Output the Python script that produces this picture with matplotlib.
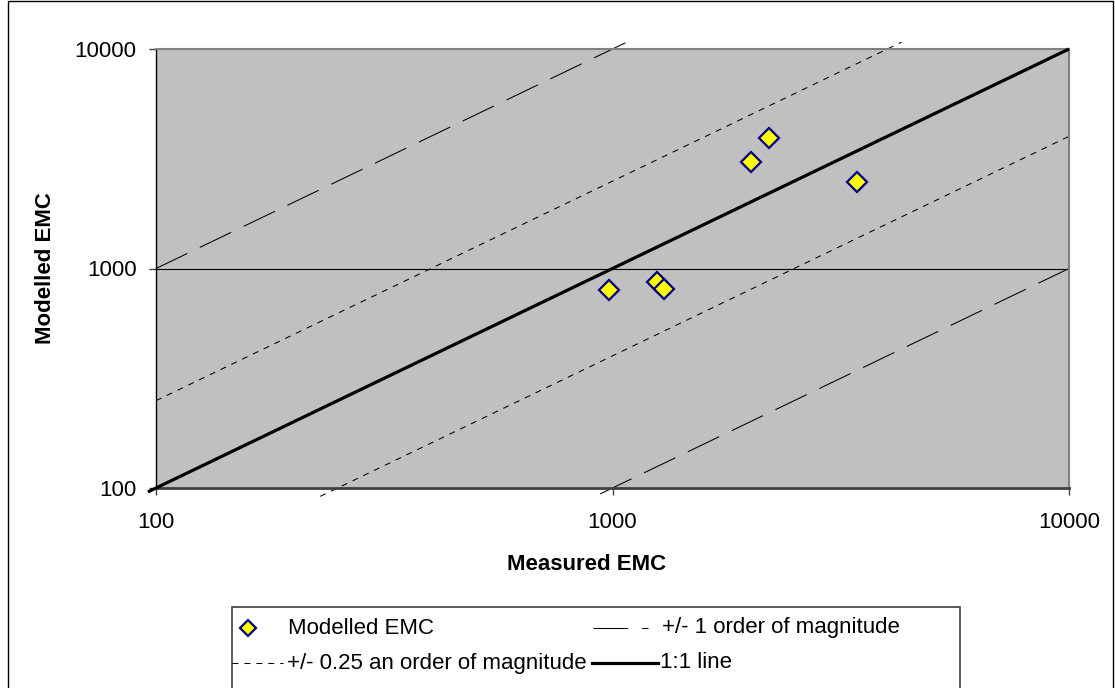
import matplotlib
matplotlib.use("Agg")
import matplotlib.pyplot as plt
from matplotlib.lines import Line2D
from matplotlib.patches import Rectangle
import numpy as np

plt.rcParams['font.family'] = ['Liberation Sans', 'DejaVu Sans']
plt.rcParams['lines.scale_dashes'] = False

# ---- data ----
measured_emc = [981, 1252, 1296, 2011, 2206, 3433]
modelled_emc = [796, 865, 809, 3056, 3920, 2472]

one_to_one_x = [96, 10000]
upper_1_x = [100, 1086]      # y = 10 * x
lower_1_x = [940, 10000]     # y = x / 10
upper_q_x = [100, 4300]      # y = 2.5 * x
lower_q_x = [229, 10000]     # y = x / 2.5
factor_1 = 10.0
factor_q = 2.5

tick_vals = [100, 1000, 10000]
tick_labels = ["100", "1000", "10000"]

W, H = 1115, 688
fig = plt.figure(figsize=(W / 100, H / 100), dpi=100)
fx = lambda x: x / W
fy = lambda y: 1 - y / H

ax = fig.add_axes([fx(156), fy(488), (1069 - 156) / W, (488 - 49) / H])
ax.set_facecolor('#C0C0C0')
ax.set_xscale('log')
ax.set_yscale('log')
ax.set_xlim(100, 10000)
ax.set_ylim(100, 10000)

ax.axhline(1000, color='black', lw=0.8, zorder=1)

long_dash = (0, (25, 10))
short_dash = (0, (4.3, 4.3))

x = np.array(upper_1_x, float)
ax.plot(x, x * factor_1, color='black', lw=0.75, linestyle=long_dash, clip_on=False, zorder=2)
x = np.array(lower_1_x, float)
ax.plot(x, x / factor_1, color='black', lw=0.75, linestyle=long_dash, clip_on=False, zorder=2)
x = np.array(upper_q_x, float)
ax.plot(x, x * factor_q, color='black', lw=0.75, linestyle=short_dash, clip_on=False, zorder=2)
x = np.array(lower_q_x, float)
ax.plot(x, x / factor_q, color='black', lw=0.75, linestyle=short_dash, clip_on=False, zorder=2)
x = np.array(one_to_one_x, float)
ax.plot(x, x, color='black', lw=2.3, solid_capstyle='butt', clip_on=False, zorder=3)

ax.plot(measured_emc, modelled_emc, linestyle='none', marker='D', markersize=10,
        markerfacecolor='#FFFF00', markeredgecolor='#000080', markeredgewidth=1.6, zorder=4)

ax.set_xticks(tick_vals)
ax.set_xticklabels(tick_labels)
ax.set_yticks(tick_vals)
ax.set_yticklabels(tick_labels)
ax.minorticks_off()
ax.tick_params(axis='both', which='major', labelsize=16, length=5, width=1,
               color='#404040', direction='out')
ax.tick_params(axis='x', pad=12)
ax.tick_params(axis='y', pad=9)

for s in ['top', 'right']:
    ax.spines[s].set_color('#808080')
    ax.spines[s].set_linewidth(1.5)
ax.spines['left'].set_color('black')
ax.spines['left'].set_linewidth(1)
ax.spines['bottom'].set_color('#404040')
ax.spines['bottom'].set_linewidth(2)

fig.text(fx(587), fy(565), "Measured EMC", ha='center', va='center',
         fontsize=16, fontweight='bold')
fig.text(fx(46), fy(268), "Modelled EMC", ha='center', va='center',
         fontsize=16, fontweight='bold', rotation=90)

# outer chart border
fig.add_artist(Rectangle((fx(8), fy(700)), (1113 - 8) / W, (700 - 1) / H,
                         transform=fig.transFigure, fill=False,
                         edgecolor='black', lw=1))

# legend
fig.add_artist(Rectangle((fx(232), fy(700)), (960 - 232) / W, (700 - 607) / H,
                         transform=fig.transFigure, fill=False,
                         edgecolor='#404040', lw=1.2))
r1, r2 = 628, 663
fig.add_artist(Line2D([fx(248)], [fy(r1)], marker='D', markersize=8,
                      markerfacecolor='#FFFF00', markeredgecolor='#000080',
                      markeredgewidth=1.6, linestyle='none', transform=fig.transFigure))
fig.text(fx(288), fy(r1), "Modelled EMC", fontsize=16, va='center', ha='left')
fig.add_artist(Line2D([fx(593), fx(648)], [fy(r1), fy(r1)], color='black', lw=0.75,
                      linestyle=(0, (25, 10)), transform=fig.transFigure))
fig.text(fx(662), fy(r1), "+/- 1 order of magnitude", fontsize=16, va='center', ha='left')
fig.add_artist(Line2D([fx(232), fx(283)], [fy(r2), fy(r2)], color='black', lw=0.75,
                      linestyle=(0, (4.3, 4.3)), transform=fig.transFigure))
fig.text(fx(287), fy(r2), "+/- 0.25 an order of magnitude", fontsize=16, va='center', ha='left')
fig.add_artist(Line2D([fx(592), fx(658)], [fy(r2), fy(r2)], color='black', lw=2.3,
                      transform=fig.transFigure))
fig.text(fx(660), fy(r2), "1:1 line", fontsize=16, va='center', ha='left')

fig.savefig("out.png", dpi=100)
